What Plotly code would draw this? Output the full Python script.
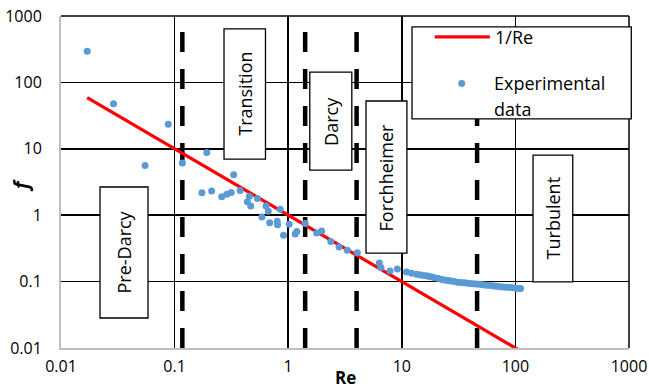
import plotly.graph_objects as go

# ---------------- data ----------------
re_exp = [0.017, 0.029, 0.055, 0.088, 0.117, 0.174, 0.192, 0.212, 0.26, 0.288,
          0.315, 0.331, 0.377, 0.437, 0.455, 0.468, 0.535, 0.587, 0.638, 0.668,
          0.687, 0.80, 0.805, 0.85, 0.91, 1.02, 1.15, 1.19, 1.41, 1.78,
          1.97, 2.37, 2.80, 3.31, 4.06, 6.34, 6.55, 7.87, 9.13, 11.0,
          12.2, 13.5, 14.5, 15.5, 16.5, 17.5, 18.5, 19.5, 21.0, 22.5,
          24.0, 25.5, 27.0, 29.0, 31.0, 33.0, 35.0, 37.0, 39.5, 42.0,
          45.0, 48.0, 51.0, 54.0, 57.0, 61.0, 65.0, 69.0, 73.0, 78.0,
          83.0, 88.0, 94.0, 100.0, 106.0, 111.0]
f_exp = [295, 47.5, 5.6, 23.5, 6.1, 2.17, 8.8, 2.32, 1.89, 2.07,
         2.20, 4.05, 2.35, 1.59, 1.93, 1.38, 1.78, 0.94, 1.37, 1.15,
         0.77, 0.81, 0.72, 1.23, 0.50, 0.73, 0.52, 0.57, 0.75, 0.54,
         0.58, 0.40, 0.333, 0.297, 0.271, 0.191, 0.163, 0.145, 0.155, 0.140,
         0.134, 0.129, 0.127, 0.124, 0.122, 0.119, 0.117, 0.114, 0.111, 0.108,
         0.106, 0.104, 0.102, 0.100, 0.098, 0.097, 0.096, 0.095, 0.094, 0.093,
         0.092, 0.091, 0.090, 0.089, 0.088, 0.087, 0.086, 0.085, 0.084, 0.083,
         0.082, 0.082, 0.081, 0.080, 0.079, 0.079]

re_line = [0.017, 110.0]
f_line = [58.8, 0.00909]

boundary_re = [0.117, 1.41, 4.0, 46.0]

tick_vals = [0.01, 0.1, 1, 10, 100, 1000]
tick_text = ["0.01", "0.1", "1", "10", "100", "1000"]

region_names = ["Pre-Darcy", "Transition", "Darcy", "Forchheimer", "Turbulent"]
legend_names = ["1/Re", "Experimental", "data"]

# ---------------- layout helpers (domain fractions) ----------------
region_boxes = {
    "Pre-Darcy":   (0.0687, 0.1532, 0.0904, 0.485),
    "Transition":  (0.287, 0.360, 0.569, 0.961),
    "Darcy":       (0.438, 0.512, 0.536, 0.831),
    "Forchheimer": (0.537, 0.609, 0.286, 0.744),
    "Turbulent":   (0.831, 0.901, 0.199, 0.581),
}

FONT = "Open Sans"
fig = go.Figure()

for b in boundary_re:
    fig.add_trace(go.Scatter(x=[b, b], y=[0.01, 1000], mode="lines",
                             line=dict(color="black", width=4.5, dash="20px,17px"),
                             hoverinfo="skip", showlegend=False))

fig.add_trace(go.Scatter(x=re_line, y=f_line, mode="lines",
                         line=dict(color="#FF0000", width=3.2),
                         name=legend_names[0], showlegend=False))
fig.add_trace(go.Scatter(x=re_exp, y=f_exp, mode="markers",
                         marker=dict(color="#5B9BD5", size=7, line=dict(width=0)),
                         name="Experimental data", showlegend=False))

shapes = []
annotations = []
for name in region_names:
    x0, x1, y0, y1 = region_boxes[name]
    shapes.append(dict(type="rect", xref="x domain", yref="y domain",
                       x0=x0, x1=x1, y0=y0, y1=y1,
                       line=dict(color="black", width=1.3), fillcolor="white",
                       layer="above"))
    annotations.append(dict(text=name, xref="x domain", yref="y domain",
                            x=(x0 + x1) / 2, y=(y0 + y1) / 2, showarrow=False,
                            xanchor="center", yanchor="middle",
                            textangle=-90, font=dict(family=FONT, size=18, color="black")))

# top and right borders (grid lines at the range edges)
shapes.append(dict(type="line", xref="x domain", yref="y domain", x0=0, x1=1, y0=1, y1=1,
                   line=dict(color="black", width=1.5), layer="below"))
shapes.append(dict(type="line", xref="x domain", yref="y domain", x0=1, x1=1, y0=0, y1=1,
                   line=dict(color="black", width=1.5), layer="below"))

# custom legend
shapes.append(dict(type="rect", xref="x domain", yref="y domain",
                   x0=0.618, x1=1.004, y0=0.690, y1=0.967,
                   line=dict(color="black", width=1.3), fillcolor="white", layer="above"))
shapes.append(dict(type="line", xref="x domain", yref="y domain",
                   x0=0.658, x1=0.755, y0=0.937, y1=0.937,
                   line=dict(color="#FF0000", width=3.2), layer="above"))
shapes.append(dict(type="circle", xref="x domain", yref="y domain",
                   x0=0.7055 - 0.0062, x1=0.7055 + 0.0062, y0=0.797 - 0.0105, y1=0.797 + 0.0105,
                   line=dict(color="#5B9BD5", width=0), fillcolor="#5B9BD5", layer="above"))
annotations.append(dict(text=legend_names[0], xref="x domain", yref="y domain", x=0.761, y=0.937,
                        xanchor="left", yanchor="middle", showarrow=False,
                        font=dict(family=FONT, size=18, color="black")))
annotations.append(dict(text=legend_names[1], xref="x domain", yref="y domain", x=0.7595, y=0.797,
                        xanchor="left", yanchor="middle", showarrow=False,
                        font=dict(family=FONT, size=18, color="black")))
annotations.append(dict(text=legend_names[2], xref="x domain", yref="y domain", x=0.7595, y=0.720,
                        xanchor="left", yanchor="middle", showarrow=False,
                        font=dict(family=FONT, size=18, color="black")))

# axis titles
annotations.append(dict(text="<b>Re</b>", xref="x domain", yref="y domain", x=0.5, y=-0.09,
                        xanchor="center", yanchor="middle", showarrow=False,
                        font=dict(family=FONT, size=17, color="black")))
annotations.append(dict(text="<b><i>f</i></b>", xref="x domain", yref="y domain", x=-0.071, y=0.49,
                        xanchor="center", yanchor="middle", showarrow=False, textangle=-90,
                        font=dict(family=FONT, size=20, color="black")))

axis_common = dict(type="log", range=[-2, 3], tickmode="array",
                   tickvals=tick_vals, ticktext=tick_text,
                   showgrid=True, gridcolor="black", gridwidth=1.5,
                   showline=True, linecolor="#BFBFBF", linewidth=2,
                   zeroline=False, ticks="", automargin=False,
                   ticklabeloverflow="allow",
                   tickfont=dict(family=FONT, size=16, color="black"))

fig.update_layout(
    template="none",
    width=649, height=388,
    margin=dict(l=61, r=20, t=16, b=40, pad=0, autoexpand=False),
    paper_bgcolor="white", plot_bgcolor="white",
    xaxis=dict(**axis_common, ticklabelstandoff=3),
    yaxis=dict(**axis_common, ticklabelstandoff=14),
    shapes=shapes, annotations=annotations,
    showlegend=False,
    hovermode=False,
)

fig.write_html("out.html",
               config={"displayModeBar": False, "staticPlot": True},
               post_script="document.body.style.margin='0px';document.body.style.overflow='hidden';")
